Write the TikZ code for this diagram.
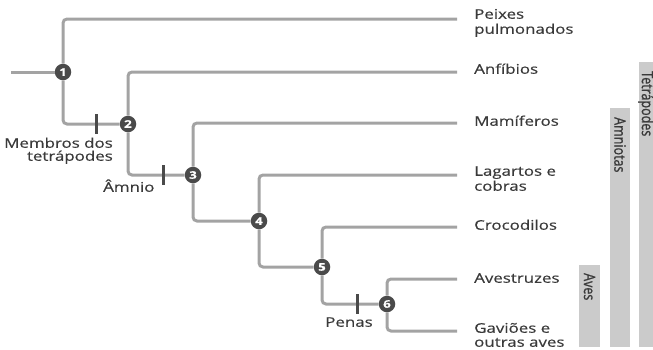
\documentclass[tikz,border=0pt]{standalone}
\usepackage{fontspec}
\setmainfont{Open Sans}[FakeStretch=1.27,FakeBold=0.4]
\newfontfamily\barfont{Open Sans}[FakeBold=1.2]
\definecolor{linegray}{HTML}{A3A3A3}
\definecolor{nodegray}{HTML}{4A4A4A}
\definecolor{txtgray}{HTML}{3A3A3A}
\definecolor{bargray}{HTML}{CBCBCB}
\tikzset{
  branch/.style={draw=linegray, line width=3pt, rounded corners=4pt},
  clade/.style={circle, fill=nodegray, minimum size=16.5pt, inner sep=0pt,
    text=white, font=\bfseries\fontsize{10.5}{10.5}\selectfont},
  tickbar/.style={rectangle, fill=nodegray, minimum width=3pt, minimum height=20pt, inner sep=0pt},
  lab/.style={inner sep=0pt, text=txtgray, font=\fontsize{13.3}{15.5}\selectfont,
    text height=9.5pt, text depth=0pt},
  sidelab/.style={inner sep=0pt, text=txtgray, rotate=-90, anchor=west,
    font=\barfont\fontsize{12.5}{12.5}\selectfont},
}
\newcommand{\sidetext}[1]{\scalebox{1}[1.25]{#1}}
\begin{document}
\begin{tikzpicture}[x=1pt,y=-1pt]
\useasboundingbox (0,0) rectangle (653,349);
% side bars
\fill[bargray] (639,62) rectangle (653,347);
\fill[bargray] (610,108) rectangle (630,347);
\fill[bargray] (579,265) rectangle (600,347);
\node[sidelab] (tet) at (646,71) {\sidetext{Tetrápodes}};
\node[sidelab] (amn) at (620,117) {\sidetext{Amniotas}};
\node[sidelab] (ave) at (589.5,273) {\sidetext{Aves}};
% clade nodes
\node[clade] (n1) at (63,72) {1};
\node[clade] (n2) at (128,124) {2};
\node[clade] (n3) at (193,175) {3};
\node[clade] (n4) at (259,221) {4};
\node[clade] (n5) at (322,267) {5};
\node[clade] (n6) at (387,304) {6};
% tips
\coordinate (root) at (11,72);
\coordinate (t1) at (457,19);
\coordinate (t2) at (457,72);
\coordinate (t3) at (457,123);
\coordinate (t4) at (457,175);
\coordinate (t5) at (457,227);
\coordinate (t6) at (457,279);
\coordinate (t7) at (457,331);
% branches
\draw[branch] (root) -- (n1);
\draw[branch] (n1) |- (t1);
\draw[branch] (n1) |- (n2);
\draw[branch] (n2) |- (t2);
\draw[branch] (n2) |- (n3);
\draw[branch] (n3) |- (t3);
\draw[branch] (n3) |- (n4);
\draw[branch] (n4) |- (t4);
\draw[branch] (n4) |- (n5);
\draw[branch] (n5) |- (t5);
\draw[branch] (n5) |- (n6);
\draw[branch] (n6) |- (t6);
\draw[branch] (n6) |- (t7);
% character bars
\node[tickbar] (b1) at (96,124) {};
\node[tickbar] (b2) at (163,175) {};
\node[tickbar] (b3) at (357,304) {};
% character labels
\node[lab, anchor=east] (m1) at (113,143) {Membros dos};
\node[lab, anchor=east] (m2) at (113,156) {tetrápodes};
\node[lab, anchor=west] (am) at (103,187) {Âmnio};
\node[lab, anchor=center] (pe) at (349,322) {Penas};
% tip labels
\node[lab, anchor=west] (l1a) at (474,14) {Peixes};
\node[lab, anchor=west] (l1b) at (474,29) {pulmonados};
\node[lab, anchor=west] (l2) at (474,69) {Anfíbios};
\node[lab, anchor=west] (l3) at (474,121) {Mamíferos};
\node[lab, anchor=west] (l4a) at (474,171) {Lagartos e};
\node[lab, anchor=west] (l4b) at (474,186) {cobras};
\node[lab, anchor=west] (l5) at (474,225) {Crocodilos};
\node[lab, anchor=west] (l6) at (474,278) {Avestruzes};
\node[lab, anchor=west] (l7a) at (474,328) {Gaviões e};
\node[lab, anchor=west] (l7b) at (474,342) {outras aves};
\end{tikzpicture}
\end{document}
